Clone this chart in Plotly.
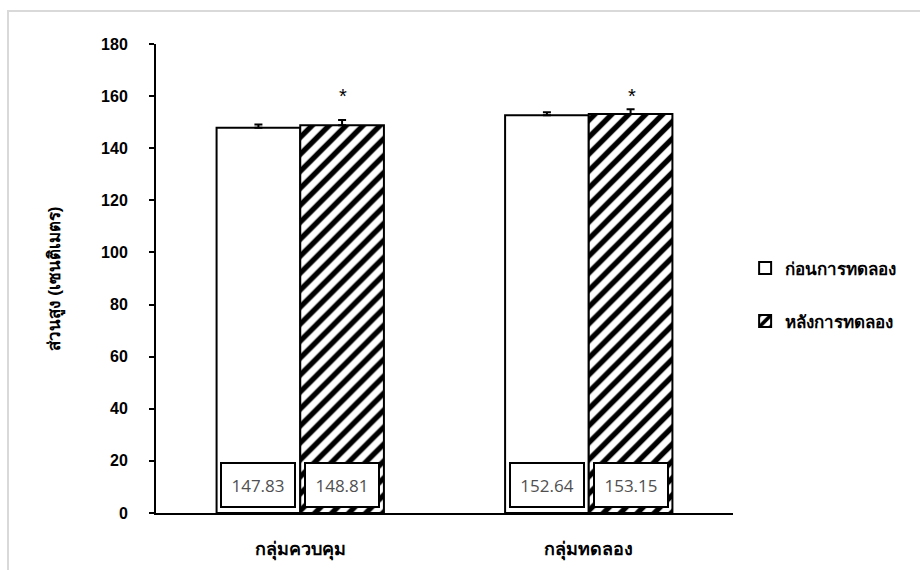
import plotly.graph_objects as go

# Data
groups = ["กลุ่มควบคุม", "กลุ่มทดลอง"]
series_names = ["ก่อนการทดลอง", "หลังการทดลอง"]
before = [147.83, 152.64]
after = [148.81, 153.15]
before_err = [1.3, 1.2]
after_err = [2.0, 1.8]
y_ticks = [0, 20, 40, 60, 80, 100, 120, 140, 160, 180]
star_level = 160

FONT = "Tahoma, 'Liberation Sans', 'Noto Sans', sans-serif"
NUM_FONT = "'Open Sans', 'Noto Sans', sans-serif"

fig = go.Figure()
fig.add_trace(go.Bar(
    x=groups, y=before, name=series_names[0],
    marker=dict(color="white", line=dict(color="black", width=2)),
    error_y=dict(type="data", array=before_err, arrayminus=[0, 0],
                 color="black", thickness=2, width=4),
    legendgroup="a",
))
fig.add_trace(go.Bar(
    x=groups, y=after, name=series_names[1],
    marker=dict(color="white", line=dict(color="black", width=2),
                pattern=dict(shape="/", fgcolor="black", bgcolor="white",
                             fgopacity=1, size=12, solidity=0.45)),
    error_y=dict(type="data", array=after_err, arrayminus=[0, 0],
                 color="black", thickness=2, width=4),
    legendgroup="b",
))

# value boxes near the bottom of each bar, asterisks above the post-test bars
for i, g in enumerate(groups):
    for val, shift in ((before[i], -42), (after[i], 42)):
        fig.add_annotation(
            x=g, y=10.7, xref="x", yref="y", xshift=shift,
            text=f"{val:.2f}", showarrow=False,
            font=dict(family=NUM_FONT, size=17, color="#505050"),
            bgcolor="white", bordercolor="black", borderwidth=2,
            borderpad=2, width=68, height=38,
        )
    fig.add_annotation(
        x=g, y=star_level, xref="x", yref="y", xshift=43,
        text="*", showarrow=False,
        font=dict(family="'Liberation Sans', sans-serif", size=20, color="black"),
    )

# light frame around the figure
fig.add_shape(type="rect", xref="paper", yref="paper",
              x0=-0.2565, x1=1.5, y0=-0.2, y1=1.0704,
              line=dict(color="#d9d9d9", width=2), fillcolor="rgba(0,0,0,0)",
              layer="below")

fig.update_layout(
    width=920, height=570,
    margin=dict(l=156, r=187, t=44, b=57, autoexpand=False),
    paper_bgcolor="white", plot_bgcolor="white",
    barmode="group", bargap=0.42, bargroupgap=0,
    font=dict(family=FONT, color="black"),
    showlegend=True,
    legend=dict(x=1.021, y=0.56, xanchor="left", yanchor="top",
                font=dict(size=17, family=FONT, color="black", weight="bold"),
                tracegroupgap=28, traceorder="grouped",
                itemwidth=30, bgcolor="rgba(0,0,0,0)"),
    xaxis=dict(showline=True, linecolor="black", linewidth=2,
               ticks="", showgrid=False, zeroline=False, automargin=False,
               ticklabelstandoff=18,
               tickfont=dict(size=18, family=FONT, color="black", weight="bold")),
    yaxis=dict(range=[0, 180], tickvals=y_ticks, showline=True,
               linecolor="black", linewidth=2, ticks="outside",
               ticklen=5, tickwidth=2, tickcolor="black", automargin=False,
               showgrid=False, zeroline=False, ticklabelstandoff=18,
               tickfont=dict(size=16, family=FONT, color="black", weight="bold"),
               title=dict(text="<b>ส่วนสูง (เซนติเมตร)</b>", standoff=36,
                          font=dict(size=17, family=FONT, color="black"))),
)

fig.write_html("out.html")
